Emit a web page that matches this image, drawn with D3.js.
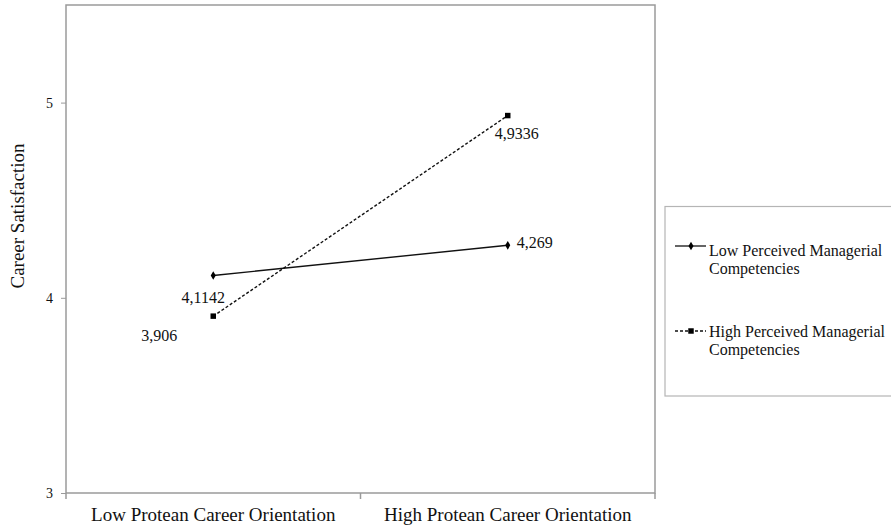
<!DOCTYPE html>
<html>
<head>
<meta charset="utf-8">
<script src="https://cdn.jsdelivr.net/npm/d3@7"></script>
<style>
  html, body { margin: 0; padding: 0; background: #fff; }
  svg { display: block; font-family: "Liberation Serif", "Times New Roman", serif; }
</style>
</head>
<body>
<svg id="chart" width="891" height="527"></svg>
<script>
// ---- data ----
const categories = ["Low Protean Career Orientation", "High Protean Career Orientation"];
const seriesNames = ["Low Perceived Managerial Competencies", "High Perceived Managerial Competencies"];
const lowPMC = [4.1142, 4.269];
const highPMC = [3.906, 4.9336];
const lowPMCLabels = ["4,1142", "4,269"];
const highPMCLabels = ["3,906", "4,9336"];
const yTicks = [3, 4, 5];
const yTitle = "Career Satisfaction";

// ---- layout ----
const svg = d3.select("#chart");
const plot = { left: 66, right: 655, top: 5, bottom: 493 };
const x = d3.scaleBand().domain(categories).range([plot.left, plot.right]).padding(0);
const y = d3.scaleLinear().domain([3, 5.5]).range([plot.bottom, plot.top]);
const frameColor = "#9a9a9a";

// frame
svg.append("rect")
  .attr("x", plot.left).attr("y", plot.top)
  .attr("width", plot.right - plot.left).attr("height", plot.bottom - plot.top)
  .attr("fill", "none").attr("stroke", frameColor).attr("stroke-width", 1.5);

// y axis
const yAxis = d3.axisLeft(y).tickValues(yTicks).tickSize(5).tickPadding(8).tickFormat(d3.format("d"));
const gy = svg.append("g").attr("transform", `translate(${plot.left},0)`).call(yAxis);
gy.select(".domain").remove();
gy.selectAll(".tick line").attr("stroke", frameColor).attr("stroke-width", 1);
gy.selectAll(".tick text").attr("fill", "#111").style("font-size", "14px")
  .style("font-family", '"Liberation Serif", serif');

// x axis boundaries ticks
const boundaries = [plot.left].concat(categories.map(c => x(c) + x.bandwidth()));
svg.append("g").selectAll("line").data(boundaries).join("line")
  .attr("x1", d => d).attr("x2", d => d)
  .attr("y1", plot.bottom).attr("y2", plot.bottom + 6)
  .attr("stroke", frameColor).attr("stroke-width", 1.5);

// x labels
svg.append("g").selectAll("text").data(categories).join("text")
  .attr("x", d => x(d) + x.bandwidth() / 2)
  .attr("y", 521)
  .attr("text-anchor", "middle")
  .attr("fill", "#111")
  .style("font-size", "19px")
  .text(d => d);

// y title
svg.append("text")
  .attr("transform", `translate(24,216) rotate(-90)`)
  .attr("text-anchor", "middle")
  .attr("fill", "#111")
  .style("font-size", "19px")
  .text(yTitle);

// lines
const cx = c => x(c) + x.bandwidth() / 2;
const line = d3.line().x(d => cx(d.c)).y(d => y(d.v));
const lowData = categories.map((c, i) => ({ c, v: lowPMC[i], label: lowPMCLabels[i] }));
const highData = categories.map((c, i) => ({ c, v: highPMC[i], label: highPMCLabels[i] }));

svg.append("path").datum(lowData).attr("d", line)
  .attr("fill", "none").attr("stroke", "#111").attr("stroke-width", 1.4);
svg.append("path").datum(highData).attr("d", line)
  .attr("fill", "none").attr("stroke", "#111").attr("stroke-width", 1.4)
  .attr("stroke-dasharray", "3,2");

// markers
const diamond = d3.symbol().type(d3.symbolDiamond).size(22);
const square = d3.symbol().type(d3.symbolSquare).size(30);
svg.append("g").selectAll("path").data(lowData).join("path")
  .attr("d", diamond).attr("transform", d => `translate(${cx(d.c)},${y(d.v)})`).attr("fill", "#000");
svg.append("g").selectAll("path").data(highData).join("path")
  .attr("d", square).attr("transform", d => `translate(${cx(d.c)},${y(d.v)})`).attr("fill", "#000");

// data labels (offsets relative to points)
const lowOffsets = [{ dx: -10, dy: 27, anchor: "middle" }, { dx: 9, dy: 3, anchor: "start" }];
const highOffsets = [{ dx: -54, dy: 25, anchor: "middle" }, { dx: 9, dy: 23, anchor: "middle" }];
function labels(data, offs) {
  svg.append("g").selectAll("text").data(data).join("text")
    .attr("x", (d, i) => cx(d.c) + offs[i].dx)
    .attr("y", (d, i) => y(d.v) + offs[i].dy)
    .attr("text-anchor", (d, i) => offs[i].anchor)
    .attr("fill", "#111")
    .style("font-size", "16px")
    .text(d => d.label);
}
labels(lowData, lowOffsets);
labels(highData, highOffsets);

// legend
const lg = svg.append("g");
lg.append("rect").attr("x", 665).attr("y", 206.5).attr("width", 240).attr("height", 189.5)
  .attr("fill", "#fff").attr("stroke", "#b5b5b5").attr("stroke-width", 1.2);
const legendItems = [
  { name: seriesNames[0], dash: null, sym: diamond, ly: 246, ty: 256 },
  { name: seriesNames[1], dash: "3,2", sym: square, ly: 331, ty: 337 }
];
legendItems.forEach(it => {
  lg.append("line").attr("x1", 675).attr("x2", 706).attr("y1", it.ly).attr("y2", it.ly)
    .attr("stroke", "#111").attr("stroke-width", 1.3)
    .attr("stroke-dasharray", it.dash);
  lg.append("path").attr("d", it.sym).attr("transform", `translate(691,${it.ly})`).attr("fill", "#000");
  const words = it.name.split(" ");
  const t = lg.append("text").attr("x", 709).attr("y", it.ty).attr("fill", "#111").style("font-size", "16px");
  t.append("tspan").attr("x", 709).text(words.slice(0, 3).join(" "));
  t.append("tspan").attr("x", 709).attr("dy", 18).text(words.slice(3).join(" "));
});
</script>
</body>
</html>
